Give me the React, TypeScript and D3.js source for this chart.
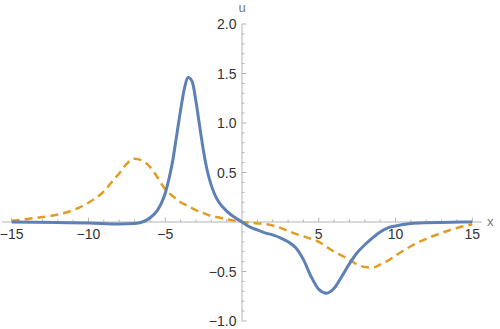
import React from "react";
import * as d3 from "d3";

// values
const blueX = [-15, -12, -10, -8, -7, -6.5, -6, -5.5, -5.25, -5, -4.75, -4.5, -4.25, -4, -3.75, -3.5, -3.25, -3, -2.75, -2.5, -2.25, -2, -1.75, -1.5, -1, -0.5, 0, 0.5, 1, 1.5, 2, 2.5, 3, 3.5, 4, 4.5, 5, 5.5, 6, 6.5, 7, 7.5, 8, 8.5, 9, 9.5, 10, 11, 12, 13, 15];
const blueU = [0, -0.005, -0.01, -0.02, -0.015, 0, 0.04, 0.12, 0.19, 0.29, 0.44, 0.63, 0.88, 1.13, 1.35, 1.46, 1.42, 1.22, 0.96, 0.71, 0.51, 0.37, 0.27, 0.2, 0.11, 0.05, 0, -0.05, -0.08, -0.11, -0.13, -0.16, -0.2, -0.26, -0.38, -0.55, -0.68, -0.72, -0.67, -0.55, -0.42, -0.31, -0.23, -0.16, -0.1, -0.06, -0.04, -0.015, -0.007, -0.004, 0];

const orangeX = [-15, -14, -13, -12, -11, -10, -9, -8.5, -8, -7.5, -7, -6.5, -6, -5.5, -5, -4.5, -4, -3.5, -3, -2.5, -2, -1.5, -1, -0.5, 0, 0.5, 1, 1.5, 2, 2.5, 3, 3.5, 4, 4.5, 5, 5.5, 6, 6.5, 7, 7.5, 8, 8.5, 9, 9.5, 10, 10.5, 11, 12, 13, 14, 15];
const orangeU = [0.013, 0.03, 0.05, 0.075, 0.12, 0.195, 0.31, 0.4, 0.49, 0.59, 0.64, 0.62, 0.56, 0.45, 0.33, 0.26, 0.2, 0.16, 0.12, 0.09, 0.06, 0.045, 0.028, 0.014, 0, -0.006, -0.014, -0.02, -0.035, -0.06, -0.09, -0.12, -0.145, -0.17, -0.2, -0.25, -0.3, -0.34, -0.38, -0.43, -0.455, -0.46, -0.43, -0.39, -0.34, -0.29, -0.245, -0.17, -0.11, -0.06, -0.025];

const xMajor = [-15, -10, -5, 5, 10, 15];
const yMajor = [-1, -0.5, 0.5, 1, 1.5, 2];

const width = 500;
const height = 329;

const fmtX = (v: number) => (v < 0 ? "\u2212" + Math.abs(v) : String(v));
const fmtY = (v: number) => (v < 0 ? "\u2212" + Math.abs(v).toFixed(1) : v.toFixed(1));

const App = () => {
  const x = d3.scaleLinear().domain([-15, 15]).range([11.7, 472.3]);
  const y = d3.scaleLinear().domain([-1, 2]).range([321, 24]);

  const line = d3
    .line<[number, number]>()
    .x((d) => x(d[0]))
    .y((d) => y(d[1]))
    .curve(d3.curveMonotoneX);

  const bluePts = blueX.map((v, i) => [v, blueU[i]] as [number, number]);
  const orangePts = orangeX.map((v, i) => [v, orangeU[i]] as [number, number]);

  // minor ticks: every 1 on x, every 0.1 on y
  const xMinor = d3.range(-15, 15.01, 1).filter((v) => v % 5 !== 0);
  const yMinor = d3.range(-10, 21, 1).map((v) => v / 10).filter((v) => Math.round(v * 10) % 5 !== 0);

  const axisColor = "#b3b3b3";
  const labelColor = "#333";
  const x0 = x(0);
  const y0 = y(0);

  return (
    <div style={{ position: "absolute", left: 0, top: 0 }}>
      <svg width={width} height={height} style={{ display: "block", fontFamily: "'Liberation Sans', Arial, sans-serif" }}>
        <rect width={width} height={height} fill="white" />
        {/* axes */}
        <line x1={2} x2={482} y1={y0} y2={y0} stroke={axisColor} strokeWidth={1} />
        <line x1={x0} x2={x0} y1={y(2)} y2={y(-1)} stroke={axisColor} strokeWidth={1} />

        {xMinor.map((v) => (
          <line key={"xm" + v} x1={x(v)} x2={x(v)} y1={y0} y2={y0 - 2.5} stroke={axisColor} />
        ))}
        {xMajor.map((v) => (
          <line key={"xM" + v} x1={x(v)} x2={x(v)} y1={y0} y2={y0 - 4.5} stroke={axisColor} />
        ))}
        {yMinor.map((v) => (
          <line key={"ym" + v} x1={x0} x2={x0 + 2.5} y1={y(v)} y2={y(v)} stroke={axisColor} />
        ))}
        {yMajor.map((v) => (
          <line key={"yM" + v} x1={x0} x2={x0 + 4.5} y1={y(v)} y2={y(v)} stroke={axisColor} />
        ))}

        {xMajor.map((v) => (
          <text key={"xl" + v} x={x(v)} y={y0 + 16.5} textAnchor="middle" fontSize={14} fill={labelColor}>
            {fmtX(v)}
          </text>
        ))}
        {yMajor.map((v) => (
          <text key={"yl" + v} x={x0 - 5.5} y={y(v)} dy="0.36em" textAnchor="end" fontSize={14} fill={labelColor}>
            {fmtY(v)}
          </text>
        ))}

        <text x={x0} y={12} textAnchor="middle" fontSize={13} fill="#777">u</text>
        <text x={487} y={y0} dy="0.3em" fontSize={13} fill="#777">x</text>

        <path d={line(orangePts) ?? ""} fill="none" stroke="#e19c24" strokeWidth={2.5} strokeDasharray="8,5" />
        <path d={line(bluePts) ?? ""} fill="none" stroke="#5e81b5" strokeWidth={3} />
      </svg>
    </div>
  );
};

export default App;
